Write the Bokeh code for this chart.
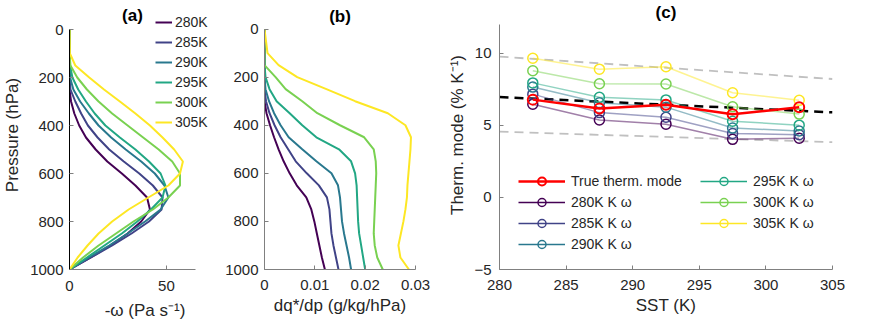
from bokeh.plotting import figure
from bokeh.layouts import row
from bokeh.models import Range1d, FixedTicker, Legend, LegendItem, Label
from bokeh.embed import file_html
from bokeh.resources import INLINE

FONT = "Liberation Sans"

# ---------------- data ----------------
sst_names = ["280K", "285K", "290K", "295K", "300K", "305K"]
colors = ["#440154", "#404387", "#29788E", "#22A784", "#79D151", "#FDE724"]

pres = [0, 100, 150, 200, 250, 300, 350, 400, 450, 500, 550, 600, 650, 700, 750, 800, 850, 900, 950, 1000]

# panel (a): -omega (Pa s-1)
omega_280 = [0, 0, 0, 0, 0, 0.8, 2.5, 5, 8.5, 13.5, 19.5, 27, 34, 40, 41.5, 37, 30, 21, 11, 0]
omega_285 = [0, 0, 0, 0, 0.5, 3, 6, 9.5, 14.5, 20.5, 28, 36, 43, 48, 47.5, 41, 32, 22, 11, 0]
omega_290 = [0, 0, 0, 0.3, 2, 5.5, 10, 15, 21.5, 29, 37, 44, 49, 51, 47, 39, 30, 20.5, 10, 0]
omega_295 = [0, 0, 0.3, 1.5, 4.5, 8.5, 13, 18.5, 26, 34, 41, 47, 49.5, 48, 42, 35, 27, 18, 9, 0]
omega_300 = [0, 0, 0.5, 4, 9, 15, 22, 30, 38, 46, 53, 57, 57, 51, 43, 33, 24, 15, 7, 0]
omega_305 = [0, 0.2, 3, 10.2, 17.8, 26, 34, 41.5, 48, 54, 58.5, 57, 51, 40.7, 30.5, 22, 15, 9.3, 4.2, 0]

# panel (b): dq*/dp (g/kg/hPa)
dq_280 = [0, 0, 0, 0, 0, 0, 0.0004, 0.0011, 0.0019, 0.0028, 0.0038, 0.0050, 0.0064, 0.0083, 0.0093, 0.0099, 0.0104, 0.0109, 0.0114, 0.0120]
dq_285 = [0, 0, 0, 0, 0, 0.0003, 0.0010, 0.0020, 0.0032, 0.0047, 0.0062, 0.0084, 0.0108, 0.0124, 0.0129, 0.0131, 0.0133, 0.0137, 0.0142, 0.0147]
dq_290 = [0, 0, 0, 0, 0.0002, 0.0009, 0.0019, 0.0032, 0.0048, 0.0075, 0.0103, 0.0133, 0.0146, 0.0150, 0.0152, 0.0154, 0.0158, 0.0163, 0.0168, 0.0172]
dq_295 = [0, 0, 0, 0.0002, 0.0010, 0.0024, 0.0050, 0.0075, 0.0103, 0.0148, 0.0172, 0.0180, 0.0183, 0.0184, 0.0185, 0.0186, 0.0188, 0.0192, 0.0196, 0.0200]
dq_300 = [0, 0, 0, 0.0022, 0.0042, 0.0075, 0.0105, 0.0150, 0.0198, 0.0217, 0.0221, 0.0222, 0.0221, 0.0220, 0.0219, 0.0218, 0.0217, 0.0219, 0.0224, 0.0235]
dq_305 = [0, 0.0006, 0.0028, 0.0065, 0.0123, 0.0180, 0.0245, 0.0280, 0.0291, 0.0290, 0.0288, 0.0286, 0.0284, 0.0283, 0.0280, 0.0276, 0.0271, 0.0266, 0.0270, 0.0287]

# panel (c): thermodynamic mode (% K-1)
sst = [282.5, 287.5, 292.5, 297.5, 302.5]
true_mode = [6.77, 6.16, 6.41, 5.75, 6.25]
kw_280 = [6.45, 5.36, 5.07, 4.02, 4.09]
kw_285 = [7.15, 5.87, 5.55, 4.42, 4.34]
kw_290 = [7.64, 6.55, 6.25, 4.80, 4.60]
kw_295 = [7.93, 6.93, 6.75, 5.27, 5.00]
kw_300 = [8.77, 7.87, 7.85, 6.28, 5.77]
kw_305 = [9.64, 8.88, 9.05, 7.25, 6.72]
legend_c = ["280K K ω", "285K K ω", "290K K ω", "295K K ω", "300K K ω", "305K K ω"]

fit_x = [280, 305]
fit_mid = [6.95, 5.89]
fit_hi = [9.75, 8.20]
fit_lo = [4.55, 3.82]

omega_all = [omega_280, omega_285, omega_290, omega_295, omega_300, omega_305]
dq_all = [dq_280, dq_285, dq_290, dq_295, dq_300, dq_305]
kw_all = [kw_280, kw_285, kw_290, kw_295, kw_300, kw_305]

AX = "#808080"
TXT = "#262626"
NAN = float("nan")
H = 324


def style(p, xticks, yticks, xlabel, ylabel, xbounds, ybounds):
    p.outline_line_color = None
    p.grid.visible = False
    p.background_fill_color = "white"
    p.border_fill_color = "white"
    p.xaxis.ticker = FixedTicker(ticks=xticks)
    p.yaxis.ticker = FixedTicker(ticks=yticks)
    p.xaxis.bounds = xbounds
    p.yaxis.bounds = ybounds
    p.xaxis.axis_label = xlabel
    if ylabel:
        p.yaxis.axis_label = ylabel
    for ax in p.axis:
        ax.axis_line_color = AX
        ax.major_tick_line_color = AX
        ax.major_tick_in = 4
        ax.major_tick_out = 0
        ax.minor_tick_line_color = None
        ax.major_label_text_font = FONT
        ax.major_label_text_font_size = "15px"
        ax.major_label_text_color = TXT
        ax.axis_label_text_font = FONT
        ax.axis_label_text_font_size = "17px"
        ax.axis_label_text_font_style = "normal"
        ax.axis_label_text_color = TXT
    p.xaxis.major_label_standoff = 10
    p.xaxis.axis_label_standoff = 3
    p.yaxis.major_label_standoff = 6
    p.yaxis.axis_label_standoff = 5


def add_title(p, x, y, off, text):
    p.add_layout(Label(x=x, y=y, y_offset=off, text=text, text_align="center",
                       text_baseline="middle", text_font=FONT,
                       text_font_size="17px", text_font_style="bold", text_color="black"))


# ---------------- panel (a) ----------------
a_px_per_hpa = 240 / 1000
a_px_per_unit = 126 / 65
pa = figure(width=220, height=H,
            x_range=Range1d(0, 151 / a_px_per_unit), y_range=Range1d(1000, -29 / a_px_per_hpa),
            min_border_left=69, min_border_right=0, min_border_top=0, min_border_bottom=H - 269,
            output_backend="svg", toolbar_location=None)
style(pa, [0, 50], [0, 200, 400, 600, 800, 1000], "-ω (Pa s⁻¹)", "Pressure (hPa)", (0, 65), (0, 1000))
pa.xaxis.major_label_standoff = 11
pa.xaxis.axis_label_standoff = 7
pa.yaxis.axis_line_color = "black"
items_a = []
for name, col, om in zip(sst_names, colors, omega_all):
    r = pa.line(om, pres, line_color=col, line_width=2)
    items_a.append(LegendItem(label=name, renderers=[r]))
leg_a = Legend(items=items_a, location=(86, 137), padding=0, margin=0, spacing=0,
               glyph_width=17, glyph_height=20, label_height=20, label_standoff=3,
               label_text_font=FONT, label_text_font_size="14px", label_text_color=TXT,
               border_line_color=None, background_fill_alpha=0)
pa.add_layout(leg_a)
add_title(pa, 32.5, 0, 14, "(a)")

# ---------------- panel (b) ----------------
b_px_per_hpa = 244 / 1000
pb = figure(width=220, height=H, x_range=Range1d(0, 0.03), y_range=Range1d(1000, -29 / b_px_per_hpa),
            min_border_left=44, min_border_right=25, min_border_top=0, min_border_bottom=H - 273,
            output_backend="svg", toolbar_location=None)
style(pb, [0, 0.01, 0.02, 0.03], [0, 200, 400, 600, 800, 1000], "dq*/dp (g/kg/hPa)", None, (0, 0.03), (0, 1000))
pb.xaxis.major_label_overrides = {0: "0", 0.01: "0.01", 0.02: "0.02", 0.03: "0.03"}
for col, dq in zip(colors, dq_all):
    pb.line(dq, pres, line_color=col, line_width=2)
add_title(pb, 0.015, 0, 12.5, "(b)")

# ---------------- panel (c) ----------------
c_px_per_unit = 249 / 17
pc = figure(width=425, height=H, x_range=Range1d(280, 305), y_range=Range1d(-5, 12 + 24 / c_px_per_unit),
            min_border_left=59, min_border_right=33, min_border_top=0, min_border_bottom=H - 273,
            output_backend="svg", toolbar_location=None)
style(pc, [280, 285, 290, 295, 300, 305], [-5, 0, 5, 10], "SST (K)", "Therm. mode (% K⁻¹)", (280, 305), (-5, 12))
pc.yaxis.axis_label_standoff = 4
pc.yaxis.major_label_standoff = 8
pc.line(fit_x, fit_hi, line_color="#c0c0c0", line_width=1.8, line_dash="9 6")
pc.line(fit_x, fit_lo, line_color="#c0c0c0", line_width=1.8, line_dash="9 6")
pc.line(fit_x, fit_mid, line_color="black", line_width=2.5, line_dash="9 6")

items_c = []
for lab, col, kw in zip(legend_c, colors, kw_all):
    pc.line(sst, kw, line_color=col, line_width=1.5, line_alpha=0.5)
    s = pc.scatter(sst, kw, marker="circle", size=10, line_color=col, line_width=1.5, fill_color=None)
    dummy = pc.line(x=[NAN], y=[NAN], line_color=col, line_width=1.5)
    items_c.append(LegendItem(label=lab, renderers=[dummy, s]))
rl = pc.line(sst, true_mode, line_color="red", line_width=2.5)
rs = pc.scatter(sst, true_mode, marker="circle", size=10, line_color="red", line_width=2, fill_color=None)
items_c.insert(0, LegendItem(label="True therm. mode", renderers=[rl, rs]))
leg_c = Legend(items=items_c, location=(19, 15), nrows=4, padding=0, margin=0, spacing=1,
               glyph_width=47, glyph_height=20, label_height=20, label_standoff=6, label_width=128,
               label_text_font=FONT, label_text_font_size="14px", label_text_color=TXT,
               border_line_color=None, background_fill_alpha=0)
pc.add_layout(leg_c)
add_title(pc, 292.5, 12, 11.5, "(c)")

layout = row(pa, pb, pc, spacing=0)
open("out.html", "w").write(file_html(layout, INLINE))
